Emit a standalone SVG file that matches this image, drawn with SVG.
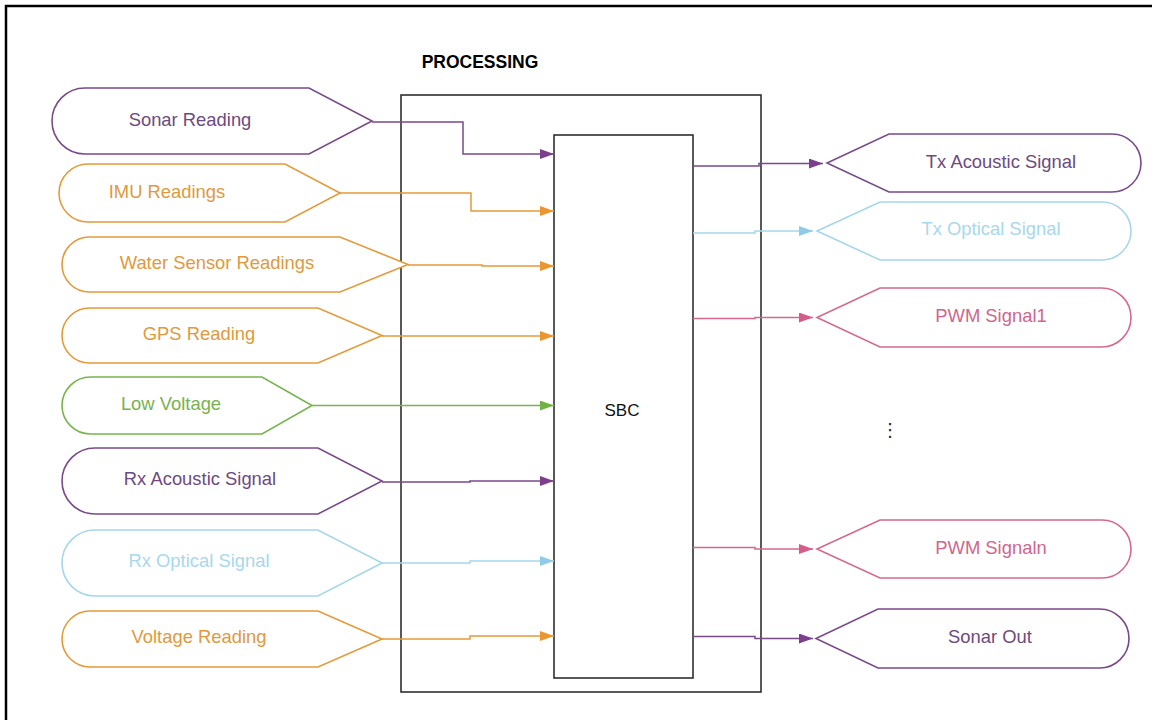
<svg xmlns="http://www.w3.org/2000/svg" width="1161" height="720" viewBox="0 0 1161 720">
<style>
text{font-family:"Liberation Sans",Arial,sans-serif;font-size:18.4px;text-anchor:middle}
.sh{fill:#fff;stroke-width:1.6}
.c{fill:none;stroke-width:1.5}
.pu{stroke:#784a88}.or{stroke:#e59a3a}.gr{stroke:#76b450}.bl{stroke:#a5d6ea}.pk{stroke:#d4688f}
.tpu{fill:#6e4a7e}.tor{fill:#e0993d}.tgr{fill:#78b24e}.tbl{fill:#a8d8ec}.tpk{fill:#d0668d}
.box{fill:#fff;stroke:#222;stroke-width:1.5}
</style>
<defs>
<marker id="apu" markerWidth="14" markerHeight="10" refX="14" refY="5" orient="auto" markerUnits="userSpaceOnUse"><path d="M0,0 L14,5 L0,10 Z" fill="#7b3f8c"/></marker>
<marker id="aor" markerWidth="14" markerHeight="10" refX="14" refY="5" orient="auto" markerUnits="userSpaceOnUse"><path d="M0,0 L14,5 L0,10 Z" fill="#eb962e"/></marker>
<marker id="agr" markerWidth="14" markerHeight="10" refX="14" refY="5" orient="auto" markerUnits="userSpaceOnUse"><path d="M0,0 L14,5 L0,10 Z" fill="#72b244"/></marker>
<marker id="abl" markerWidth="14" markerHeight="10" refX="14" refY="5" orient="auto" markerUnits="userSpaceOnUse"><path d="M0,0 L14,5 L0,10 Z" fill="#8ecbe6"/></marker>
<marker id="apk" markerWidth="14" markerHeight="10" refX="14" refY="5" orient="auto" markerUnits="userSpaceOnUse"><path d="M0,0 L14,5 L0,10 Z" fill="#d65a8a"/></marker>
</defs>
<rect width="1161" height="720" fill="#fff"/>
<path d="M6,720 V6 H1152" fill="none" stroke="#000" stroke-width="2.5"/>

<g id="processing">
<rect class="box" x="401" y="95" width="360" height="597"/>
<text x="480" y="68" style="font-weight:bold;font-size:17.5px">PROCESSING</text>
</g>
<g id="sbc">
<rect class="box" x="554" y="135" width="139" height="543"/>
<text x="622" y="416" style="font-size:17px" fill="#111">SBC</text>
</g>

<g id="sonar-reading">
<path class="sh pu" d="M309,88 H85 A33,33 0 0 0 85,154 H309 L372,121 Z"/>
<text class="tpu" x="190" y="126">Sonar Reading</text>
</g>
<g id="imu-readings">
<path class="sh or" d="M285,164 H88 A29,29 0 0 0 88,222 H285 L340,193 Z"/>
<text class="tor" x="167" y="198">IMU Readings</text>
</g>
<g id="water-sensor-readings">
<path class="sh or" d="M340,237 H89.5 A27.5,27.5 0 0 0 89.5,292 H340 L408,264.5 Z"/>
<text class="tor" x="217" y="269">Water Sensor Readings</text>
</g>
<g id="gps-reading">
<path class="sh or" d="M318,308 H89.5 A27.5,27.5 0 0 0 89.5,363 H318 L382,335.5 Z"/>
<text class="tor" x="199" y="340">GPS Reading</text>
</g>
<g id="low-voltage">
<path class="sh gr" d="M262,377 H90.5 A28.5,28.5 0 0 0 90.5,434 H262 L312,405.5 Z"/>
<text class="tgr" x="171" y="410">Low Voltage</text>
</g>
<g id="rx-acoustic-signal">
<path class="sh pu" d="M318,448 H95 A33,33 0 0 0 95,514 H318 L382,481 Z"/>
<text class="tpu" x="200" y="485">Rx Acoustic Signal</text>
</g>
<g id="rx-optical-signal">
<path class="sh bl" d="M318,530 H95 A33,33 0 0 0 95,596 H318 L382,563 Z"/>
<text class="tbl" x="199" y="567">Rx Optical Signal</text>
</g>
<g id="voltage-reading">
<path class="sh or" d="M318,611 H90 A28,28 0 0 0 90,667 H318 L382,639 Z"/>
<text class="tor" x="199" y="643">Voltage Reading</text>
</g>

<g id="tx-acoustic-signal">
<path class="sh pu" d="M889,134 H1112 A29,29 0 0 1 1112,192 H889 L827,163 Z"/>
<text class="tpu" x="1001" y="168">Tx Acoustic Signal</text>
</g>
<g id="tx-optical-signal">
<path class="sh bl" d="M880,202 H1102 A29,29 0 0 1 1102,260 H880 L817,231 Z"/>
<text class="tbl" x="991" y="235">Tx Optical Signal</text>
</g>
<g id="pwm-signal1">
<path class="sh pk" d="M880,288 H1101.5 A29.5,29.5 0 0 1 1101.5,347 H880 L817,317.5 Z"/>
<text class="tpk" x="991" y="322">PWM Signal1</text>
</g>
<g id="pwm-signaln">
<path class="sh pk" d="M880,520 H1102 A29,29 0 0 1 1102,578 H880 L817,549 Z"/>
<text class="tpk" x="991" y="554">PWM Signaln</text>
</g>
<g id="sonar-out">
<path class="sh pu" d="M878,609 H1099.5 A29.5,29.5 0 0 1 1099.5,668 H878 L816,638.5 Z"/>
<text class="tpu" x="990" y="643">Sonar Out</text>
</g>

<text x="890" y="436" style="font-family:'DejaVu Sans',sans-serif;font-size:18px" fill="#222">⋮</text>

<g id="connectors">
<path class="c pu" d="M372,122 H463 V154 H554" marker-end="url(#apu)"/>
<path class="c or" d="M340,193 H471 V211 H554" marker-end="url(#aor)"/>
<path class="c or" d="M408,265 H482 V266 H554" marker-end="url(#aor)"/>
<path class="c or" d="M382,336 H554" marker-end="url(#aor)"/>
<path class="c gr" d="M312,405.5 H554" marker-end="url(#agr)"/>
<path class="c pu" d="M382,482 H470 V481 H554" marker-end="url(#apu)"/>
<path class="c bl" d="M382,563 H470 V561 H554" marker-end="url(#abl)"/>
<path class="c or" d="M382,639 H470 V636 H554" marker-end="url(#aor)"/>
<path class="c pu" d="M693,166 H759 V163.5 H823" marker-end="url(#apu)"/>
<path class="c bl" d="M693,233 H755 V231 H813" marker-end="url(#abl)"/>
<path class="c pk" d="M693,318.5 H755 V317.5 H813" marker-end="url(#apk)"/>
<path class="c pk" d="M693,547.5 H755 V549 H813" marker-end="url(#apk)"/>
<path class="c pu" d="M693,636.5 H755 V638.5 H813" marker-end="url(#apu)"/>
</g>
</svg>
